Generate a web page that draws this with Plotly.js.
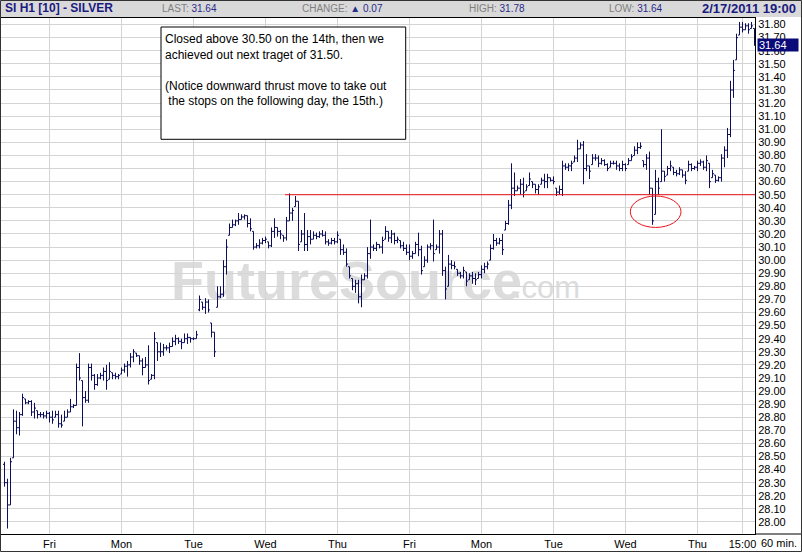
<!DOCTYPE html>
<html>
<head>
<meta charset="utf-8">
<script src="https://cdn.plot.ly/plotly-3.0.1.min.js"></script>
<style>html,body{margin:0;padding:0;background:#fff;}#chart{width:802px;height:552px;}</style>
</head>
<body>
<div id="chart"></div>
<script>
// SI H1 [10] - SILVER, 60 min bars. Hours counted from Thu (Feb 3) 00:00, trading days only.
const firstHour = 9;
const open = [
28.44,28.30,28.13,28.49,28.77,28.72,28.82,28.94,28.91,28.92,
28.84,28.85,28.82,28.82,28.81,28.83,28.80,28.80,28.82,28.75,
28.77,28.80,28.84,28.88,28.89,29.18,29.08,28.95,28.93,29.18,
29.12,29.05,29.10,29.12,29.15,29.09,29.14,29.12,29.11,29.13,
29.16,29.19,29.20,29.26,29.29,29.27,29.23,29.18,29.20,29.09,
29.12,29.37,29.30,29.30,29.33,29.33,29.34,29.38,29.40,29.38,
29.37,29.40,29.41,29.40,29.40,29.62,29.68,29.64,29.68,29.52,
29.45,29.64,29.72,29.74,29.95,30.19,30.25,30.27,30.30,30.31,
30.33,30.34,30.28,30.22,30.10,30.11,30.13,30.15,30.14,30.11,
30.22,30.25,30.22,30.19,30.17,30.30,30.36,30.41,30.45,30.14,
30.20,30.12,30.18,30.16,30.19,30.18,30.20,30.19,30.14,30.13,
30.15,30.14,30.16,30.08,30.06,29.95,29.86,29.80,29.82,29.72,
29.85,29.88,30.05,30.10,30.09,30.12,30.10,30.16,30.22,30.17,
30.20,30.15,30.15,30.11,30.09,30.06,30.03,30.05,30.12,30.08,
29.95,30.00,30.10,30.11,30.08,30.10,30.20,29.92,29.80,29.97,
29.96,29.93,29.90,29.88,29.91,29.85,29.88,29.86,29.86,29.89,
29.93,29.95,30.00,30.09,30.15,30.13,30.15,30.23,30.28,30.42,
30.55,30.53,30.55,30.58,30.53,30.57,30.60,30.58,30.54,30.58,
30.61,30.60,30.63,30.61,30.55,30.52,30.54,30.72,30.71,30.72,
30.75,30.78,30.85,30.88,30.70,30.72,30.73,30.78,30.78,30.74,
30.76,30.73,30.71,30.74,30.74,30.72,30.70,30.73,30.73,30.76,
30.80,30.84,30.86,30.76,30.73,30.78,30.55,30.35,30.60,30.60,
30.68,30.65,30.70,30.71,30.67,30.66,30.69,30.65,30.68,30.73,
30.70,30.71,30.74,30.75,30.71,30.74,30.63,30.65,30.61,30.63,
30.78,30.84,30.96,31.30,31.53,31.72,31.78,31.76,31.79,31.77,31.77];
const high = [
28.46,28.33,28.49,28.86,28.85,28.84,28.98,28.94,28.93,28.93,
28.91,28.85,28.84,28.84,28.85,28.84,28.85,28.85,28.85,28.82,
28.85,28.86,28.94,28.90,29.21,29.29,29.08,29.00,29.21,29.21,
29.13,29.13,29.14,29.18,29.20,29.22,29.14,29.14,29.13,29.18,
29.21,29.23,29.29,29.32,29.29,29.27,29.25,29.26,29.35,29.13,
29.45,29.37,29.37,29.36,29.35,29.37,29.41,29.43,29.41,29.40,
29.44,29.44,29.41,29.41,29.46,29.73,29.68,29.71,29.70,29.52,
29.45,29.80,29.80,30.00,30.16,30.28,30.31,30.31,30.36,30.35,
30.35,30.34,30.32,30.22,30.13,30.16,30.17,30.18,30.14,30.25,
30.32,30.25,30.23,30.19,30.33,30.51,30.40,30.49,30.45,30.23,
30.36,30.23,30.23,30.22,30.21,30.22,30.23,30.22,30.16,30.17,
30.17,30.22,30.16,30.12,30.09,29.95,29.86,29.85,29.85,29.89,
29.90,30.10,30.31,30.12,30.14,30.12,30.18,30.26,30.22,30.23,
30.21,30.18,30.15,30.14,30.12,30.12,30.07,30.14,30.21,30.11,
30.03,30.12,30.13,30.31,30.12,30.23,30.23,29.95,30.04,30.00,
29.99,29.93,29.91,29.95,29.91,29.90,29.91,29.90,29.91,29.96,
29.98,29.99,30.12,30.20,30.17,30.17,30.20,30.30,30.46,30.74,
30.67,30.57,30.62,30.63,30.58,30.67,30.60,30.58,30.58,30.63,
30.66,30.66,30.63,30.64,30.55,30.57,30.76,30.74,30.74,30.76,
30.80,30.92,30.90,30.91,30.81,30.72,30.81,30.81,30.80,30.78,
30.77,30.74,30.76,30.76,30.76,30.74,30.76,30.74,30.78,30.81,
30.87,30.90,30.90,30.76,30.81,30.83,30.55,30.69,30.63,31.00,
30.68,30.72,30.76,30.71,30.69,30.71,30.69,30.68,30.76,30.74,
30.72,30.76,30.77,30.76,30.80,30.74,30.69,30.65,30.64,30.81,
30.87,31.01,31.37,31.53,31.73,31.82,31.82,31.81,31.81,31.82,31.77];
const low = [
28.27,27.95,28.13,28.49,28.67,28.66,28.81,28.90,28.90,28.81,
28.79,28.79,28.80,28.79,28.79,28.76,28.75,28.80,28.72,28.72,
28.77,28.80,28.84,28.87,28.89,29.08,28.73,28.91,28.91,29.08,
29.01,29.04,29.09,29.08,29.01,29.09,29.09,29.09,29.09,29.13,
29.14,29.11,29.18,29.22,29.26,29.20,29.12,29.18,29.05,29.09,
29.09,29.23,29.26,29.27,29.31,29.29,29.34,29.35,29.36,29.32,
29.37,29.36,29.37,29.39,29.40,29.61,29.62,29.59,29.60,29.41,
29.26,29.64,29.71,29.72,29.89,30.19,30.25,30.26,30.27,30.31,
30.31,30.25,30.22,30.08,30.09,30.09,30.12,30.13,30.09,30.10,
30.17,30.18,30.16,30.14,30.15,30.30,30.30,30.41,30.07,30.14,
30.07,30.07,30.12,30.16,30.16,30.17,30.18,30.12,30.11,30.12,
30.12,30.13,30.04,30.04,29.95,29.86,29.77,29.75,29.67,29.64,
29.85,29.86,30.01,30.07,30.07,30.09,30.05,30.16,30.14,30.13,
30.12,30.13,30.09,30.07,30.04,30.00,30.01,30.05,30.03,29.89,
29.95,29.98,30.08,29.99,30.08,30.05,29.88,29.70,29.80,29.93,
29.93,29.88,29.86,29.86,29.80,29.85,29.82,29.81,29.86,29.86,
29.90,29.93,30.00,30.08,30.11,30.12,30.04,30.23,30.27,30.39,
30.49,30.53,30.50,30.48,30.53,30.57,30.55,30.51,30.50,30.58,
30.55,30.55,30.60,30.58,30.49,30.50,30.49,30.69,30.68,30.68,
30.75,30.75,30.85,30.58,30.68,30.62,30.73,30.76,30.71,30.73,
30.72,30.68,30.71,30.73,30.69,30.68,30.68,30.68,30.73,30.76,
30.80,30.81,30.85,30.71,30.69,30.50,30.27,30.35,30.50,30.60,
30.60,30.65,30.68,30.65,30.64,30.65,30.63,30.58,30.68,30.68,
30.69,30.68,30.72,30.69,30.68,30.55,30.63,30.59,30.60,30.60,
30.71,30.78,30.94,31.24,31.53,31.72,31.74,31.76,31.73,31.77,31.64];
const close = [
28.30,28.13,28.46,28.77,28.72,28.82,28.95,28.91,28.92,28.84,
28.87,28.82,28.82,28.81,28.83,28.80,28.78,28.82,28.75,28.74,
28.80,28.84,28.88,28.89,29.18,29.10,28.95,28.93,29.18,29.12,
29.05,29.10,29.12,29.15,29.08,29.15,29.12,29.11,29.12,29.16,
29.19,29.20,29.26,29.30,29.27,29.23,29.18,29.20,29.08,29.12,
29.40,29.30,29.30,29.33,29.33,29.34,29.38,29.40,29.38,29.37,
29.40,29.41,29.40,29.40,29.43,29.70,29.64,29.68,29.62,29.45,
29.30,29.72,29.74,29.95,30.10,30.25,30.27,30.30,30.31,30.33,
30.34,30.28,30.24,30.10,30.11,30.13,30.15,30.16,30.11,30.22,
30.25,30.22,30.20,30.17,30.30,30.36,30.38,30.45,30.12,30.20,
30.12,30.18,30.16,30.19,30.18,30.20,30.19,30.14,30.13,30.15,
30.14,30.19,30.08,30.06,29.97,29.88,29.80,29.82,29.72,29.85,
29.88,30.05,30.10,30.09,30.12,30.10,30.15,30.22,30.17,30.20,
30.15,30.16,30.11,30.09,30.06,30.03,30.05,30.12,30.08,29.92,
30.00,30.10,30.11,30.05,30.10,30.20,29.92,29.78,29.97,29.96,
29.95,29.90,29.88,29.92,29.84,29.88,29.86,29.85,29.89,29.93,
29.95,29.97,30.09,30.15,30.13,30.15,30.08,30.28,30.42,30.55,
30.53,30.55,30.58,30.52,30.56,30.62,30.58,30.54,30.56,30.61,
30.60,30.63,30.61,30.60,30.52,30.54,30.72,30.71,30.72,30.74,
30.78,30.85,30.88,30.70,30.72,30.68,30.78,30.78,30.74,30.76,
30.73,30.70,30.74,30.74,30.72,30.70,30.73,30.70,30.76,30.79,
30.84,30.86,30.87,30.73,30.78,30.55,30.30,30.60,30.55,30.68,
30.64,30.70,30.72,30.67,30.66,30.69,30.65,30.61,30.73,30.70,
30.71,30.74,30.75,30.71,30.76,30.60,30.66,30.61,30.63,30.78,
30.84,30.96,31.30,31.45,31.70,31.78,31.76,31.79,31.76,31.79,31.64];
const hours = open.map((_, i) => firstHour + i);

const dayTicks  = [24, 48, 72, 96, 120, 144, 168, 192, 216, 240, 255];
const dayLabels = ['Fri','Mon','Tue','Wed','Thu','Fri','Mon','Tue','Wed','Thu','15:00'];

const breakoutLevel = 30.50;
const breakoutStart = 102.5;
const thrustBox = {x0: 217.6, x1: 234.5, y0: 30.25, y1: 30.49};
const lastPrice = '31.64';

const X0 = 7.8333, X1 = 259.1667;   // 3 px per hour, bars on pixel centres
const BAR = '#0e0e5e';
const NAVY = '#1a1a80';
const PX = x => (x - 1) / 754;
const PY = y => (534 - y) / 516;
const FONT = 'Liberation Sans, Arial, sans-serif';

const trace = {
  type: 'ohlc', x: hours, open: open, high: high, low: low, close: close,
  increasing: {line: {color: BAR, width: 1}},
  decreasing: {line: {color: BAR, width: 1}},
  tickwidth: 0.5, hoverinfo: 'skip', showlegend: false
};

const hdrY = PY(8.5);
const layout = {
  width: 802, height: 552,
  margin: {l: 1, r: 47, t: 18, b: 18, pad: 0},
  paper_bgcolor: '#ffffff', plot_bgcolor: '#ffffff',
  showlegend: false,
  font: {family: FONT, size: 11, color: '#000'},
  xaxis: {
    range: [X0, X1], tickmode: 'array', tickvals: dayTicks, ticktext: dayLabels,
    showgrid: true, gridcolor: '#d4d4d4', gridwidth: 1, zeroline: false,
    showline: true, linecolor: '#000', linewidth: 1, mirror: true,
    ticks: '', tickfont: {family: 'Liberation Sans Narrow, ' + FONT, size: 11, color: '#000'},
    rangeslider: {visible: false}, fixedrange: true
  },
  yaxis: {
    side: 'right', range: [27.908, 31.85], tick0: 28, dtick: 0.1, tickformat: '.2f',
    showgrid: true, gridcolor: '#d4d4d4', gridwidth: 1, zeroline: false,
    showline: true, linecolor: '#000', linewidth: 1, mirror: true,
    ticks: '', tickfont: {family: FONT, size: 11, color: '#000'}, fixedrange: true
  },
  shapes: [
    // watermark
    {type: 'rect', xref: 'paper', yref: 'paper', x0: PX(176), x1: PX(517), y0: PY(301), y1: PY(249),
     line: {width: 0}, fillcolor: 'rgba(0,0,0,0)', layer: 'below',
     label: {text: 'FutureSource', textposition: 'middle center', padding: 0,
             font: {family: FONT, size: 54, color: '#dcdcdc', weight: 'bold'}}},
    {type: 'rect', xref: 'paper', yref: 'paper', x0: PX(513), x1: PX(580), y0: PY(301), y1: PY(267),
     line: {width: 0}, fillcolor: 'rgba(0,0,0,0)', layer: 'below',
     label: {text: '.com', textposition: 'middle center', padding: 0,
             font: {family: FONT, size: 31, color: '#dcdcdc'}}},
    // header strip
    {type: 'rect', xref: 'paper', yref: 'paper', x0: PX(-2), x1: PX(804), y0: PY(17), y1: PY(-2),
     line: {width: 0}, fillcolor: '#d9d9d9'},
    // bottom line through label column
    {type: 'line', xref: 'paper', yref: 'paper', x0: 1, x1: PX(802), y0: 0, y1: 0,
     line: {color: '#000', width: 1}},
    // outer frame
    {type: 'rect', xref: 'paper', yref: 'paper', x0: PX(0.5), x1: PX(801.5), y0: PY(551.5), y1: PY(0.5),
     line: {color: '#333', width: 1}, fillcolor: 'rgba(0,0,0,0)'},
    // breakout level
    {type: 'line', xref: 'x', yref: 'y', x0: breakoutStart, x1: X1, y0: breakoutLevel, y1: breakoutLevel,
     line: {color: '#e8141b', width: 1}},
    // thrust circle
    {type: 'circle', xref: 'x', yref: 'y', x0: thrustBox.x0, x1: thrustBox.x1, y0: thrustBox.y0, y1: thrustBox.y1,
     line: {color: '#e8141b', width: 1}},
    // note box
    {type: 'rect', xref: 'paper', yref: 'paper', x0: PX(161), x1: PX(405.7), y0: PY(139.3), y1: PY(27),
     line: {color: '#000', width: 1}, fillcolor: '#ffffff'}
  ],
  annotations: [
    {xref: 'paper', yref: 'paper', x: PX(3), y: hdrY, xanchor: 'left', yanchor: 'middle', showarrow: false,
     text: '<b>SI H1 [10] - SILVER</b>', font: {family: FONT, size: 12, color: NAVY}},
    {xref: 'paper', yref: 'paper', x: PX(160), y: hdrY, xanchor: 'left', yanchor: 'middle', showarrow: false,
     text: 'LAST: <span style="color:#2a2a8a">31.64</span>', font: {family: FONT, size: 10, color: '#7f7f7f'}},
    {xref: 'paper', yref: 'paper', x: PX(300), y: hdrY, xanchor: 'left', yanchor: 'middle', showarrow: false,
     text: 'CHANGE: <span style="color:#2a2a8a">\u25B2 0.07</span>', font: {family: FONT, size: 10, color: '#7f7f7f'}},
    {xref: 'paper', yref: 'paper', x: PX(467), y: hdrY, xanchor: 'left', yanchor: 'middle', showarrow: false,
     text: 'HIGH: <span style="color:#2a2a8a">31.78</span>', font: {family: FONT, size: 10, color: '#7f7f7f'}},
    {xref: 'paper', yref: 'paper', x: PX(607), y: hdrY, xanchor: 'left', yanchor: 'middle', showarrow: false,
     text: 'LOW: <span style="color:#2a2a8a">31.64</span>', font: {family: FONT, size: 10, color: '#7f7f7f'}},
    {xref: 'paper', yref: 'paper', x: PX(798), y: hdrY, xanchor: 'right', yanchor: 'middle', showarrow: false,
     text: '<b>2/17/2011 19:00</b>', font: {family: FONT, size: 13, color: NAVY}},
    // note text
    {xref: 'paper', yref: 'paper', x: PX(162.5), y: PY(30), xanchor: 'left', yanchor: 'top', showarrow: false,
     align: 'left',
     text: 'Closed above 30.50 on the 14th, then we<br>achieved out next traget of 31.50.<br> <br>(Notice downward thrust move to take out<br>\u00a0the stops on the following day, the 15th.)',
     font: {family: FONT, size: 12, color: '#000'}},
    // last price marker
    {xref: 'paper', yref: 'y', x: PX(757), y: 31.64, xanchor: 'left', yanchor: 'middle', showarrow: false,
     text: lastPrice, align: 'left', width: 38, height: 10, borderpad: 1, bgcolor: '#0a0a78',
     font: {family: FONT, size: 11, color: '#ffffff'}},
    // interval label
    {xref: 'paper', yref: 'paper', x: PX(759), y: PY(543), xanchor: 'left', yanchor: 'middle', showarrow: false,
     text: '60 min.', font: {family: 'Liberation Sans Narrow, ' + FONT, size: 11, color: '#000'}}
  ]
};

Plotly.newPlot('chart', [trace], layout, {staticPlot: true, displayModeBar: false});
</script>
</body>
</html>
